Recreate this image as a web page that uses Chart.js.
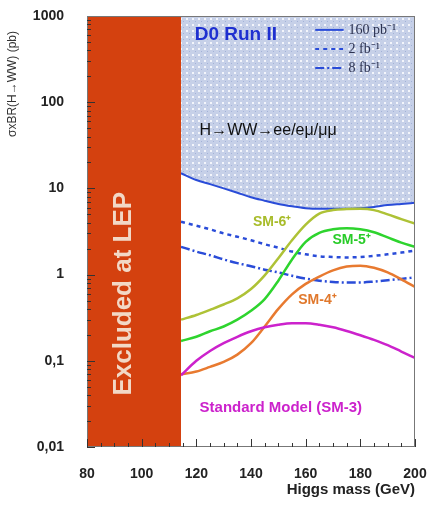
<!DOCTYPE html>
<html>
<head>
<meta charset="utf-8">
<script src="https://cdn.jsdelivr.net/npm/chart.js@4/dist/chart.umd.min.js"></script>
<style>
  body { margin: 0; background: #fff; }
</style>
</head>
<body>
<canvas id="c" width="430" height="505"></canvas>
<script>
// Higgs masses (GeV) where the curves are read
var masses = [114.4, 120, 125, 130, 135, 140, 145, 150, 155, 160, 165, 170, 175, 180, 185, 190, 195, 200];

// expected limits (pb)
var lim160pb = [15, 12.5, 11.2, 10.0, 8.9, 7.9, 7.2, 6.6, 6.2, 5.9, 5.8, 5.8, 5.8, 5.9, 6.1, 6.4, 6.6, 6.8];
var lim2fb   = [4.1, 3.7, 3.35, 3.0, 2.75, 2.5, 2.25, 2.05, 1.85, 1.72, 1.63, 1.6, 1.58, 1.6, 1.65, 1.72, 1.8, 1.9];
var lim8fb   = [2.1, 1.85, 1.68, 1.5, 1.36, 1.25, 1.14, 1.06, 0.97, 0.9, 0.85, 0.82, 0.81, 0.81, 0.83, 0.86, 0.89, 0.93];

// model predictions (pb)
var sm6 = [0.30, 0.34, 0.39, 0.45, 0.53, 0.68, 0.98, 1.55, 2.5, 3.8, 5.1, 5.6, 5.75, 5.8, 5.6, 5.0, 4.4, 3.9];
var sm5 = [0.17, 0.19, 0.22, 0.25, 0.30, 0.38, 0.52, 0.85, 1.5, 2.4, 3.05, 3.35, 3.45, 3.35, 3.1, 2.7, 2.35, 2.1];
var sm4 = [0.070, 0.075, 0.085, 0.097, 0.118, 0.16, 0.25, 0.40, 0.59, 0.78, 0.95, 1.12, 1.24, 1.27, 1.2, 1.06, 0.88, 0.72];
var sm3 = [0.068, 0.10, 0.13, 0.16, 0.19, 0.22, 0.245, 0.262, 0.272, 0.272, 0.262, 0.245, 0.222, 0.198, 0.175, 0.152, 0.128, 0.108];

var lepLimit = 114.4;
var xTicks = [80, 100, 120, 140, 160, 180, 200];
var yTicks = [0.01, 0.1, 1, 10, 100, 1000];
var yTickLabels = ["0,01", "0,1", "1", "10", "100", "1000"];

function pts(arr) {
  return masses.map(function (m, i) { return { x: m, y: arr[i] }; });
}

// dotted fill for the excluded region above the 160 pb-1 limit
function makePattern() {
  var c = document.createElement("canvas");
  c.width = 6; c.height = 6;
  var g = c.getContext("2d");
  g.fillStyle = "#c6d0e8";
  g.fillRect(0, 0, 6, 6);
  g.fillStyle = "#f3f5fb";
  g.fillRect(0, 0, 2, 2);
  g.fillStyle = "#a3b2d8";
  g.fillRect(3, 3, 1, 1);
  return document.getElementById("c").getContext("2d").createPattern(c, "repeat");
}

var SANS = '"Liberation Sans", Arial, sans-serif';

// texts placed in data coordinates
var notes = [
  { text: "D0 Run II", x: 119.4, y: 600, color: "#1f30d0", font: "bold 19px " + SANS },
  { text: "H\u2192WW\u2192ee/e\u03bc/\u03bc\u03bc", x: 121.2, y: 47, color: "#111", font: "16px " + SANS },
  { text: "SM-6\u207a", x: 140.7, y: 4.1, color: "#a8bc2a", font: "bold 14px " + SANS },
  { text: "SM-5\u207a", x: 169.8, y: 2.5, color: "#28cc28", font: "bold 14px " + SANS },
  { text: "SM-4\u207a", x: 157.3, y: 0.51, color: "#e0782c", font: "bold 14px " + SANS },
  { text: "Standard Model (SM-3)", x: 121.2, y: 0.0283, color: "#cc22cc", font: "bold 15px " + SANS }
];

var legendRows = [
  { text: "160 pb\u207b\u00b9", y: 690, dash: [] },
  { text: "2 fb\u207b\u00b9", y: 415, dash: [4, 4] },
  { text: "8 fb\u207b\u00b9", y: 250, dash: [9, 3, 2, 3] }
];

var decor = {
  id: "decor",
  afterDatasetsDraw: function (chart) {
    var ctx = chart.ctx, a = chart.chartArea;
    var xs = chart.scales.x, ys = chart.scales.y;
    ctx.save();

    // excluded at LEP text
    ctx.translate(xs.getPixelForValue(93.5), ys.getPixelForValue(0.6));
    ctx.rotate(-Math.PI / 2);
    ctx.fillStyle = "#f2d8c6";
    ctx.font = "bold 26px " + SANS;
    ctx.textAlign = "center";
    ctx.textBaseline = "middle";
    ctx.fillText("Excluded at LEP", 0, 0);
    ctx.setTransform(1, 0, 0, 1, 0, 0);

    notes.forEach(function (n) {
      ctx.fillStyle = n.color;
      ctx.font = n.font;
      ctx.textAlign = "left";
      ctx.textBaseline = "middle";
      ctx.fillText(n.text, xs.getPixelForValue(n.x), ys.getPixelForValue(n.y));
    });

    // legend
    legendRows.forEach(function (r) {
      var y = ys.getPixelForValue(r.y);
      ctx.strokeStyle = "#2a4cd8";
      ctx.lineWidth = 2;
      ctx.setLineDash(r.dash);
      ctx.beginPath();
      ctx.moveTo(xs.getPixelForValue(163.5), y);
      ctx.lineTo(xs.getPixelForValue(173.9), y);
      ctx.stroke();
      ctx.setLineDash([]);
      ctx.fillStyle = "#2c3250";
      ctx.font = '14px "Liberation Serif", serif';
      ctx.textAlign = "left";
      ctx.fillText(r.text, xs.getPixelForValue(175.7), y);
    });

    // frame and tick marks
    ctx.strokeStyle = "#777";
    ctx.lineWidth = 1;
    ctx.strokeRect(a.left + 0.5, a.top + 0.5, a.right - a.left - 1, a.bottom - a.top - 1);
    ctx.strokeStyle = "#333";
    ctx.beginPath();
    for (var d = -2; d <= 2; d++) {
      for (var k = 1; k <= 9; k++) {
        var v = k * Math.pow(10, d);
        var y = Math.round(ys.getPixelForValue(v)) + 0.5;
        ctx.moveTo(a.left, y);
        ctx.lineTo(a.left + (k === 1 ? 8 : 4), y);
      }
    }
    for (var m = 80; m <= 200; m += 5) {
      var x = Math.round(xs.getPixelForValue(m)) + 0.5;
      ctx.moveTo(x, a.bottom);
      ctx.lineTo(x, a.bottom - (m % 20 === 0 ? 8 : 4));
    }
    ctx.stroke();

    // y axis title
    ctx.translate(13, 84);
    ctx.rotate(-Math.PI / 2);
    ctx.fillStyle = "#333";
    ctx.font = "12px " + SANS;
    ctx.textAlign = "center";
    ctx.textBaseline = "middle";
    ctx.fillText("\u03c3xBR(H\u2192WW) (pb)", 0, 0);
    ctx.restore();
  }
};

var line = function (label, arr, color, dash, width) {
  return {
    label: label,
    data: pts(arr),
    borderColor: color,
    borderWidth: width || 2.5,
    borderDash: dash || [],
    pointRadius: 0,
    fill: false,
    cubicInterpolationMode: "monotone"
  };
};

var lim160 = line("160 pb-1", lim160pb, "#2a4cd8", [], 2);
lim160.fill = "end";
lim160.backgroundColor = makePattern();

new Chart(document.getElementById("c"), {
  type: "line",
  data: {
    datasets: [
      {
        label: "Excluded at LEP",
        data: [{ x: 80, y: 1000 }, { x: lepLimit, y: 1000 }],
        borderWidth: 0,
        pointRadius: 0,
        backgroundColor: "#d4410f",
        fill: "start"
      },
      line("SM-3", sm3, "#cc22cc"),
      line("SM-4", sm4, "#e87a30"),
      line("SM-5", sm5, "#2ed42e"),
      line("SM-6", sm6, "#aec236"),
      line("8 fb-1", lim8fb, "#2a4cd8", [9, 3, 2, 3], 2.5),
      line("2 fb-1", lim2fb, "#2a4cd8", [4, 4], 2.5),
      lim160
    ]
  },
  options: {
    responsive: false,
    animation: false,
    layout: { padding: { top: 16, right: 15, left: 0, bottom: 0 } },
    plugins: { legend: { display: false }, tooltip: { enabled: false } },
    scales: {
      x: {
        type: "linear",
        min: 80,
        max: 200,
        grid: { display: false },
        border: { display: false },
        afterBuildTicks: function (s) { s.ticks = xTicks.map(function (v) { return { value: v }; }); },
        afterFit: function (s) { s.height = 58; s.paddingLeft = 0; s.paddingRight = 0; },
        ticks: { color: "#222", padding: 11, font: { family: SANS, size: 14, weight: "bold" } },
        title: {
          display: true,
          text: "Higgs mass (GeV)",
          align: "end",
          color: "#222",
          font: { family: SANS, size: 15, weight: "bold" },
          padding: { top: 0, bottom: 6 }
        }
      },
      y: {
        type: "logarithmic",
        min: 0.01,
        max: 1000,
        grid: { display: false },
        border: { display: false },
        afterBuildTicks: function (s) { s.ticks = yTicks.map(function (v) { return { value: v }; }); },
        afterFit: function (s) { s.width = 87; s.paddingTop = 0; s.paddingBottom = 0; },
        ticks: {
          color: "#222",
          padding: 15,
          font: { family: SANS, size: 14, weight: "bold" },
          callback: function (v, i) { return yTickLabels[i]; }
        }
      }
    }
  },
  plugins: [decor]
});
</script>
</body>
</html>
